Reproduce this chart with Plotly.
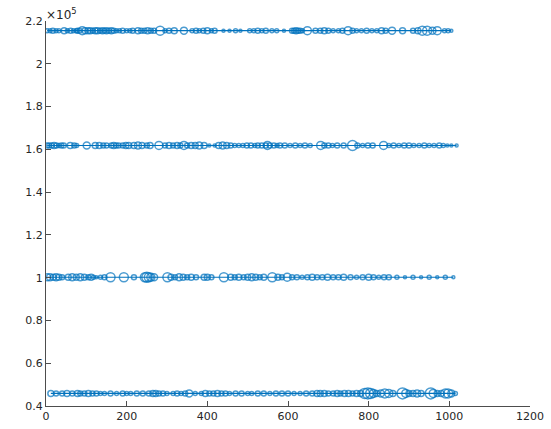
import plotly.graph_objects as go

# Row levels (y values)
row_levels = [215500, 161800, 100200, 45900]

# Row 1 (top)
x_r1 = [3, 10, 17, 25, 32, 45, 53, 61, 68, 75, 78, 83, 90, 97, 104, 110, 116, 122, 128, 134, 140,
        145, 150, 156, 162, 168, 175, 182, 190, 200, 208, 215, 228, 236, 244, 252, 260, 268, 283,
        295, 305, 318, 342, 362, 372, 380, 390, 400, 410, 418, 440, 455, 470, 482, 505, 515, 525,
        535, 545, 560, 572, 590, 610, 615, 620, 625, 630, 636, 648, 668, 680, 690, 700, 712, 725,
        735, 749, 760, 770, 782, 795, 808, 820, 832, 842, 858, 884, 910, 922, 933, 945, 958, 970,
        988, 997, 1005]
s_r1 = [4, 4, 5, 4, 4, 6, 4, 5, 4, 4, 5, 5, 8, 6, 6, 6, 5, 6, 6, 5, 6,
        5, 6, 5, 6, 5, 4, 4, 5, 4, 4, 5, 6, 5, 5, 6, 5, 5, 9,
        4, 5, 6, 7, 4, 5, 4, 5, 6, 4, 5, 3, 3, 4, 3, 4, 4, 5,
        4, 5, 4, 4, 3, 5, 5, 6, 5, 5, 4, 8, 5, 5, 6, 5, 4, 4,
        5, 8, 5, 4, 4, 5, 4, 4, 6, 5, 7, 6, 5, 6, 9, 9, 7, 8,
        4, 4, 3]

# Row 2
x_r2 = [3, 8, 14, 20, 26, 32, 38, 44, 60, 70, 76, 101, 122, 132, 142, 150, 162, 168, 174, 180,
        190, 198, 205, 218, 228, 238, 250, 258, 280, 295, 305, 315, 325, 333, 342, 350, 360, 370,
        380, 392, 405, 418, 428, 438, 448, 458, 468, 478, 488, 498, 508, 518, 525, 535, 545, 549,
        555, 565, 573, 580, 592, 605, 618, 630, 642, 655, 681, 690, 700, 710, 722, 738, 760, 772,
        785, 798, 810, 837, 850, 862, 875, 888, 900, 912, 925, 938, 950, 962, 975, 985, 995, 1005,
        1018]
s_r2 = [5, 5, 5, 6, 5, 4, 5, 5, 6, 5, 4, 7, 6, 6, 5, 5, 5, 6, 5, 5,
        5, 6, 6, 6, 7, 6, 5, 6, 8, 5, 6, 5, 6, 5, 8, 5, 6, 6,
        7, 6, 3, 3, 6, 7, 6, 5, 4, 4, 4, 5, 5, 4, 5, 5, 5, 8,
        5, 5, 4, 5, 5, 4, 5, 4, 5, 4, 8, 5, 5, 4, 5, 5, 10, 5,
        4, 5, 5, 8, 4, 5, 4, 5, 5, 4, 4, 5, 4, 4, 5, 4, 3, 3,
        3]

# Row 3
x_r3 = [3, 10, 18, 25, 32, 40, 55, 65, 75, 85, 95, 105, 112, 118, 125, 135, 145, 160, 193, 218,
        245, 250, 255, 260, 268, 301, 310, 320, 330, 340, 350, 360, 372, 392, 400, 410, 441, 458,
        468, 478, 490, 500, 510, 520, 530, 540, 561, 575, 585, 598, 610, 622, 635, 648, 660, 672,
        685, 698, 712, 725, 738, 755, 770, 785, 800, 812, 825, 838, 850, 870, 890, 910, 930, 950,
        970, 990, 1010]
s_r3 = [7, 7, 6, 7, 6, 5, 6, 7, 6, 7, 6, 5, 6, 4, 3, 4, 5, 9, 9, 5,
        9, 10, 9, 8, 7, 9, 6, 5, 7, 6, 5, 6, 5, 6, 6, 5, 9, 6,
        5, 6, 5, 6, 7, 6, 5, 6, 9, 6, 5, 8, 5, 5, 4, 5, 6, 5,
        5, 6, 5, 5, 6, 5, 4, 5, 6, 5, 4, 5, 5, 4, 3, 4, 3, 4,
        3, 4, 3]

# Row 4 (bottom)
x_r4 = [12, 25, 40, 52, 65, 78, 85, 95, 105, 115, 125, 135, 145, 160, 175, 190, 200, 210, 225,
        240, 255, 265, 272, 280, 290, 300, 315, 325, 335, 345, 355, 370, 385, 395, 405, 415, 425,
        435, 445, 455, 470, 485, 500, 510, 525, 540, 555, 570, 585, 600, 615, 630, 645, 660, 672,
        680, 690, 700, 712, 722, 730, 740, 750, 760, 770, 780, 790, 798, 805, 812, 820, 830, 840,
        850, 860, 884, 892, 900, 910, 920, 930, 954, 960, 970, 980, 990, 997, 1005, 1015]
s_r4 = [6, 5, 5, 6, 5, 6, 5, 5, 6, 5, 5, 4, 4, 5, 4, 5, 4, 4, 5,
        5, 5, 6, 6, 5, 5, 4, 4, 5, 4, 5, 7, 4, 4, 6, 5, 5, 6,
        5, 5, 4, 5, 5, 4, 4, 5, 5, 4, 5, 5, 5, 4, 4, 5, 5, 6,
        6, 6, 5, 5, 6, 5, 6, 6, 5, 6, 6, 10, 11, 10, 8, 6, 7, 9,
        8, 6, 11, 8, 6, 6, 7, 6, 11, 8, 6, 6, 9, 9, 7, 4]

x_ticks = [0, 200, 400, 600, 800, 1000, 1200]
y_ticks = [40000, 60000, 80000, 100000, 120000, 140000, 160000, 180000, 200000, 220000]
y_tick_labels = ["0.4", "0.6", "0.8", "1", "1.2", "1.4", "1.6", "1.8", "2", "2.2"]

rows_x = [x_r1, x_r2, x_r3, x_r4]
rows_s = [s_r1, s_r2, s_r3, s_r4]

color = "#0072BD"
fig = go.Figure()
for lvl, xs, ss in zip(row_levels, rows_x, rows_s):
    fig.add_trace(go.Scatter(
        x=xs, y=[lvl] * len(xs), mode="lines+markers",
        line=dict(color=color, width=1.2),
        marker=dict(symbol="circle-open", size=ss, color=color, line=dict(width=1.5, color=color)),
        showlegend=False,
    ))

axis_color = "#4d4d4d"
fig.update_layout(
    width=551, height=429,
    margin=dict(l=46, r=21, t=21, b=23, autoexpand=False),
    paper_bgcolor="white", plot_bgcolor="white",
    font=dict(family="DejaVu Sans, Liberation Sans, sans-serif", size=11, color="#262626"),
    xaxis=dict(range=[0, 1200], tickvals=x_ticks, showgrid=False, zeroline=False,
               showline=True, linecolor=axis_color, linewidth=1, automargin=False,
               ticks="inside", ticklen=5, tickcolor=axis_color, tickwidth=1),
    yaxis=dict(range=[40000, 220000], tickvals=y_ticks, ticktext=y_tick_labels,
               showgrid=False, zeroline=False, automargin=False,
               showline=True, linecolor=axis_color, linewidth=1,
               ticks="inside", ticklen=5, tickcolor=axis_color, tickwidth=1),
    annotations=[dict(text="×10<sup>5</sup>", xref="paper", yref="paper", x=0, y=1,
                      xanchor="left", yanchor="bottom", showarrow=False,
                      font=dict(size=12, color="#262626"), yshift=-3, xshift=-2)],
)

# remove the default page margin so the 551x429 figure fills the window exactly
fig.write_html("out.html", config={"displayModeBar": False},
               post_script="document.body.style.margin='0px';")
